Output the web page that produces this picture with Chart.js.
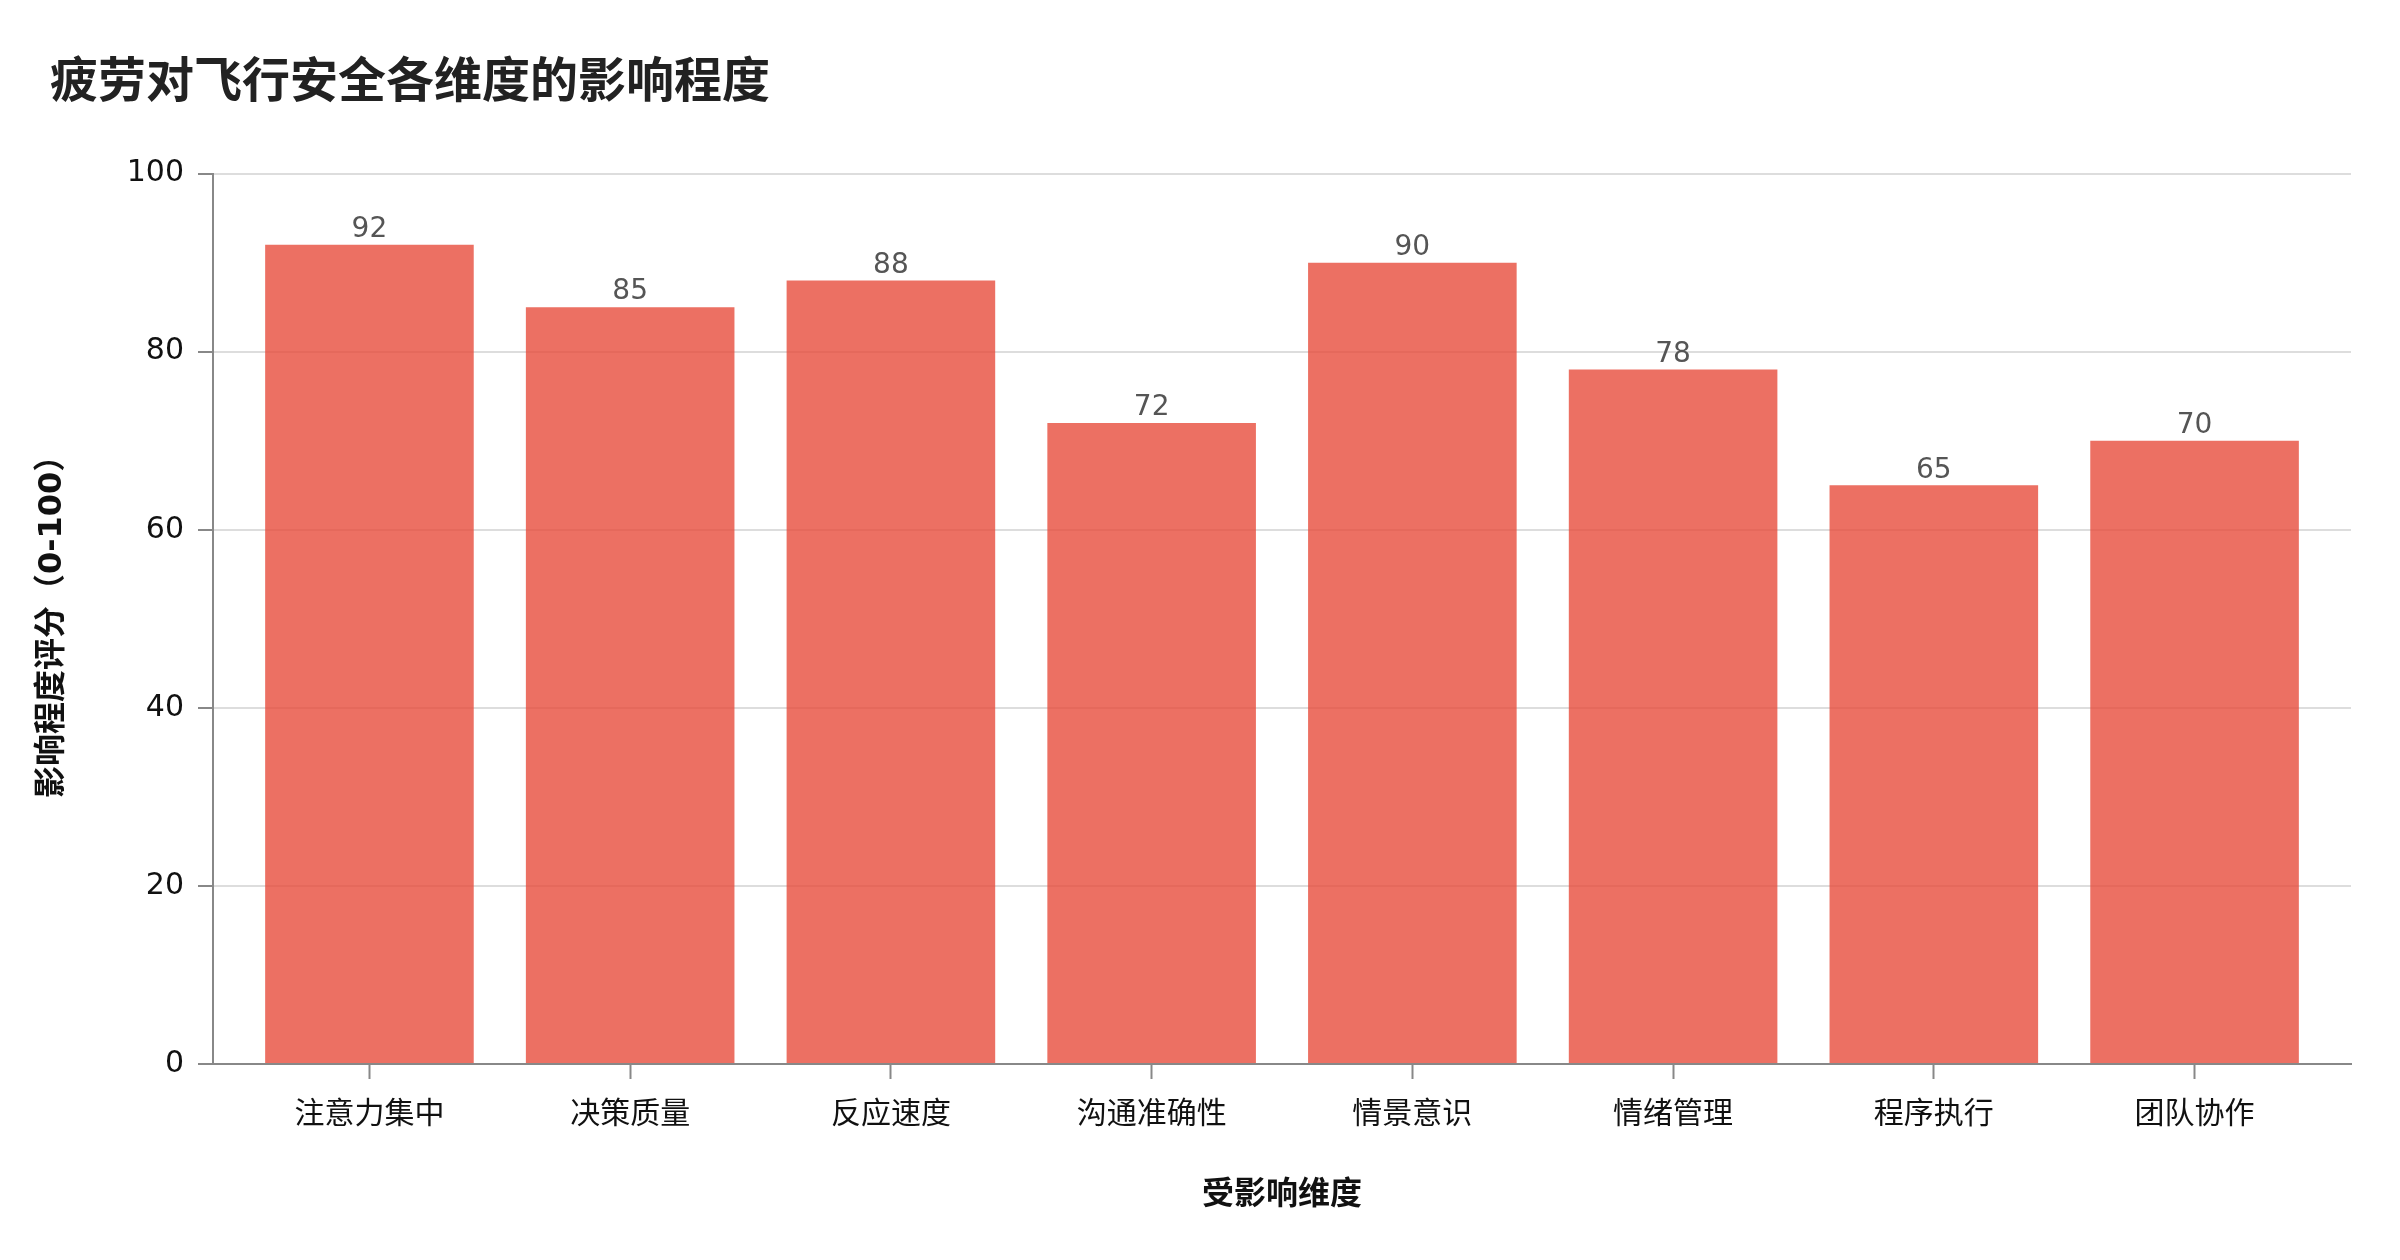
<!DOCTYPE html>
<html>
<head>
<meta charset="utf-8">
<script src="https://cdn.jsdelivr.net/npm/chart.js@4/dist/chart.umd.min.js"></script>
<style>
  html, body { margin: 0; padding: 0; background: #fff; }
  canvas { display: block; }
</style>
</head>
<body>
<canvas id="chart" width="2400" height="1260"></canvas>
<script>
const chartTitle = "疲劳对飞行安全各维度的影响程度";
const xTitle = "受影响维度";
const yTitle = "影响程度评分（0-100）";
const dimensions = ["注意力集中", "决策质量", "反应速度", "沟通准确性", "情景意识", "情绪管理", "程序执行", "团队协作"];
const scores = [92, 85, 88, 72, 90, 78, 65, 70];
const yTicks = [0, 20, 40, 60, 80, 100];

const FONT = '"DejaVu Sans", "Noto Sans CJK SC", sans-serif';
const AXIS = '#888888';

// 柱顶数值
const valueLabels = {
    id: 'valueLabels',
    afterDatasetsDraw(chart) {
        const ctx = chart.ctx;
        const meta = chart.getDatasetMeta(0);
        ctx.save();
        ctx.font = '28px ' + FONT;
        ctx.fillStyle = '#555555';
        ctx.textAlign = 'center';
        ctx.textBaseline = 'bottom';
        meta.data.forEach((bar, i) => ctx.fillText(String(scores[i]), bar.x, bar.y - 1));
        ctx.restore();
    }
};

Chart.defaults.font.family = FONT;
Chart.defaults.color = '#111111';

new Chart(document.getElementById('chart'), {
    type: 'bar',
    data: {
        datasets: [{
            data: scores.map((v, i) => ({ x: i, y: v })),
            backgroundColor: 'rgba(231, 76, 60, 0.8)',
            borderWidth: 0,
            categoryPercentage: 1.0,
            barPercentage: 0.8
        }]
    },
    options: {
        responsive: false,
        animation: false,
        devicePixelRatio: 1,
        layout: { padding: { left: 50, right: 49, top: 0, bottom: 0 } },
        plugins: {
            legend: { display: false },
            tooltip: { enabled: false },
            title: {
                display: true,
                text: chartTitle,
                align: 'start',
                color: '#222222',
                font: { size: 48, weight: 'bold', family: FONT, lineHeight: 1.2 },
                padding: { top: 56, bottom: 60 }
            }
        },
        scales: {
            x: {
                type: 'linear',
                min: -0.6,
                max: 7.6,
                offset: false,
                afterBuildTicks: axis => { axis.ticks = dimensions.map((_, i) => ({ value: i })); },
                afterFit: scale => { scale.height = 196; },
                ticks: {
                    autoSkip: false,
                    maxRotation: 0,
                    padding: 18,
                    color: '#111111',
                    font: { size: 30 },
                    callback: v => dimensions[v]
                },
                grid: { offset: false, drawOnChartArea: false, drawTicks: true, tickLength: 15, tickWidth: 2, tickColor: AXIS },
                border: { display: true, color: AXIS, width: 2 },
                title: {
                    display: true,
                    text: xTitle,
                    color: '#111111',
                    font: { size: 32, weight: 'bold', lineHeight: 1.2 },
                    padding: { top: 0, bottom: 45 }
                }
            },
            y: {
                min: 0,
                max: 100,
                afterBuildTicks: axis => { axis.ticks = yTicks.map(v => ({ value: v })); },
                afterFit: scale => { scale.width = 163; },
                ticks: { padding: 14, color: '#111111', font: { size: 30 } },
                grid: { color: '#dddddd', lineWidth: 2, drawTicks: true, tickLength: 15, tickWidth: 2, tickColor: AXIS },
                border: { display: true, color: AXIS, width: 2 },
                title: {
                    display: true,
                    text: yTitle,
                    color: '#111111',
                    font: { size: 32, weight: 'bold', lineHeight: 1.2 },
                    padding: { top: -17, bottom: 0 }
                }
            }
        }
    },
    plugins: [valueLabels]
});
</script>
</body>
</html>
